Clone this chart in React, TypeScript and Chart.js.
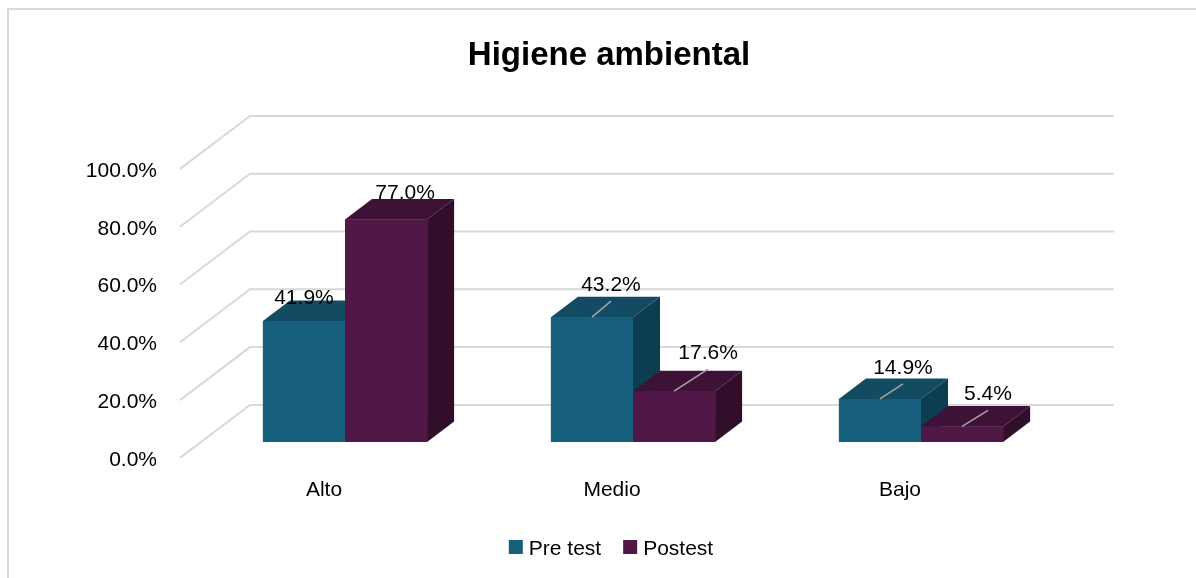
import React, { useEffect, useRef } from 'react';
import { Chart, registerables } from 'chart.js';

Chart.register(...registerables);

// ---- data ----
const chartTitle = 'Higiene ambiental';
const categories = ['Alto', 'Medio', 'Bajo'];
const seriesNames = ['Pre test', 'Postest'];
const preTest = [41.9, 43.2, 14.9];
const postTest = [77.0, 17.6, 5.4];
const yTicks = [0, 20, 40, 60, 80, 100];

// ---- styling ----
const FONT = "'Liberation Sans', Arial, Helvetica, sans-serif";
const TEXT_DY = 2; // vertical nudge so 'middle' baseline matches cap centre
const faceColors = [
  { front: '#16607E', top: '#134B63', side: '#0D3D51' },
  { front: '#511847', top: '#3E1236', side: '#310F2B' },
];
// label placement relative to bar front-top centre (per series, per category)
const labelShift = [
  [[0, -25], [19, -34], [23, -33]],
  [[19, -28], [34, -40], [26, -34]],
];
const showLeader = [
  [false, true, true],
  [false, true, true],
];
const DEPTH = { x: 70, y: -53 };
const FRONT_T = -0.3;
const BACK_T = 0.7;
const BAR_T = 0.386;

const fmt = (v: number) => v.toFixed(1) + '%';

const threeD = {
  id: 'threeD',
  beforeDraw(chart: any) {
    const ctx = chart.ctx;
    ctx.save();
    ctx.fillStyle = '#ffffff';
    ctx.fillRect(0, 0, chart.width, chart.height);
    ctx.fillStyle = '#d9d9d9';
    ctx.fillRect(7, 8, chart.width - 7, 2);
    ctx.fillRect(7, 8, 2, chart.height - 8);
    ctx.fillStyle = '#000000';
    ctx.font = `bold 33px ${FONT}`;
    ctx.textAlign = 'center';
    ctx.textBaseline = 'middle';
    ctx.fillText(chartTitle, chart.width / 2 + 11, 54 + TEXT_DY);
    ctx.restore();
  },
  beforeDatasetsDraw(chart: any) {
    const ctx = chart.ctx;
    const { left, right } = chart.chartArea;
    const ys = chart.scales.y;
    ctx.save();
    ctx.strokeStyle = '#d9d9d9';
    ctx.lineWidth = 2;
    ys.ticks.forEach((t: any) => {
      const py = ys.getPixelForValue(t.value);
      const fx = left + DEPTH.x * FRONT_T, fy = py + DEPTH.y * FRONT_T;
      const bx = left + DEPTH.x * BACK_T, by = py + DEPTH.y * BACK_T;
      ctx.beginPath();
      ctx.moveTo(fx, fy);
      ctx.lineTo(bx, by);
      ctx.lineTo(right + DEPTH.x * BACK_T, by);
      ctx.stroke();
    });
    ctx.restore();
  },
  afterDatasetsDraw(chart: any) {
    const ctx = chart.ctx;
    const dx = DEPTH.x * BAR_T, dy = DEPTH.y * BAR_T;
    const nCat = chart.data.labels.length;
    const nDs = chart.data.datasets.length;
    ctx.save();
    for (let i = 0; i < nCat; i++) {
      for (let d = 0; d < nDs; d++) {
        const el = chart.getDatasetMeta(d).data[i];
        const { x, y, base, width } = el.getProps(['x', 'y', 'base', 'width'], true);
        const l = x - width / 2, r = x + width / 2;
        const c = faceColors[d];
        ctx.fillStyle = c.front;
        ctx.fillRect(l, y, r - l, base - y);
        ctx.fillStyle = c.top;
        ctx.beginPath();
        ctx.moveTo(l, y);
        ctx.lineTo(l + dx, y + dy);
        ctx.lineTo(r + dx, y + dy);
        ctx.lineTo(r, y);
        ctx.closePath();
        ctx.fill();
        ctx.fillStyle = c.side;
        ctx.beginPath();
        ctx.moveTo(r, y);
        ctx.lineTo(r + dx, y + dy);
        ctx.lineTo(r + dx, base + dy);
        ctx.lineTo(r, base);
        ctx.closePath();
        ctx.fill();
      }
    }
    // leaders + labels
    ctx.font = `21px ${FONT}`;
    ctx.textAlign = 'center';
    ctx.textBaseline = 'middle';
    for (let d = 0; d < nDs; d++) {
      const values = chart.data.datasets[d].data;
      chart.getDatasetMeta(d).data.forEach((el: any, i: number) => {
        const { x, y } = el.getProps(['x', 'y'], true);
        const [sx, sy] = labelShift[d][i];
        const lx = x + sx, ly = y + sy;
        if (showLeader[d][i]) {
          ctx.strokeStyle = '#a6a6a6';
          ctx.lineWidth = 1.5;
          ctx.beginPath();
          ctx.moveTo(x, y);
          ctx.lineTo(lx, ly + 18);
          ctx.stroke();
        }
        ctx.fillStyle = '#000000';
        ctx.fillText(fmt(values[i]), lx, ly + TEXT_DY);
      });
    }
    ctx.restore();
  },
  afterDraw(chart: any) {
    const ctx = chart.ctx;
    ctx.save();
    ctx.font = `21px ${FONT}`;
    ctx.textBaseline = 'middle';
    ctx.textAlign = 'left';
    const box = 14, gap = 6, itemGap = 22;
    const names = chart.data.datasets.map((ds: any) => ds.label);
    const widths = names.map((n: string) => ctx.measureText(n).width);
    const total = widths.reduce((a: number, w: number) => a + box + gap + w, 0) + itemGap * (names.length - 1);
    let x = chart.width / 2 + 13 - total / 2;
    const cy = 547;
    names.forEach((n: string, k: number) => {
      ctx.fillStyle = faceColors[k].front;
      ctx.fillRect(x, cy - box / 2, box, box);
      ctx.fillStyle = '#000000';
      ctx.fillText(n, x + box + gap, cy + TEXT_DY);
      x += box + gap + widths[k] + itemGap;
    });
    ctx.restore();
  },
};

export default function App() {
  const ref = useRef<HTMLCanvasElement>(null);
  useEffect(() => {
    const canvas = ref.current!;
    const chart = new Chart(canvas, {
      type: 'bar',
      data: {
        labels: categories,
        datasets: [
          { label: seriesNames[0], data: preTest, backgroundColor: faceColors[0].front, borderWidth: 0, categoryPercentage: 0.57, barPercentage: 1 },
          { label: seriesNames[1], data: postTest, backgroundColor: faceColors[1].front, borderWidth: 0, categoryPercentage: 0.57, barPercentage: 1 },
        ],
      },
      options: {
        responsive: false,
        animation: false,
        devicePixelRatio: 1,
        layout: { padding: { left: 8, right: 131, top: 153, bottom: 0 } },
        plugins: {
          legend: { display: false },
          title: { display: false },
          tooltip: { enabled: false },
        },
        scales: {
          x: {
            type: 'category',
            offset: true,
            grid: { display: false, drawTicks: false },
            border: { display: false },
            ticks: {
              font: { family: FONT, size: 21 },
              color: '#000000',
              labelOffset: -21,
              padding: 34 + TEXT_DY,
              maxRotation: 0,
              autoSkip: false,
            },
            afterFit: (s: any) => { s.height = 136; },
          },
          y: {
            min: 0,
            max: 100,
            grid: { display: false, drawTicks: false },
            border: { display: false },
            afterBuildTicks: (s: any) => { s.ticks = yTicks.map((v) => ({ value: v })); },
            ticks: {
              font: { family: FONT, size: 21 },
              color: '#000000',
              labelOffset: 16 + TEXT_DY,
              padding: 44,
              callback: (v: any) => fmt(Number(v)),
            },
            afterFit: (s: any) => { s.width = 193; },
          },
        },
      } as any,
      plugins: [threeD],
    });
    return () => chart.destroy();
  }, []);
  return (
    <div style={{ position: 'absolute', left: 0, top: 0, width: 1196, height: 578 }}>
      <canvas ref={ref} width={1196} height={578} style={{ display: 'block' }} />
    </div>
  );
}
